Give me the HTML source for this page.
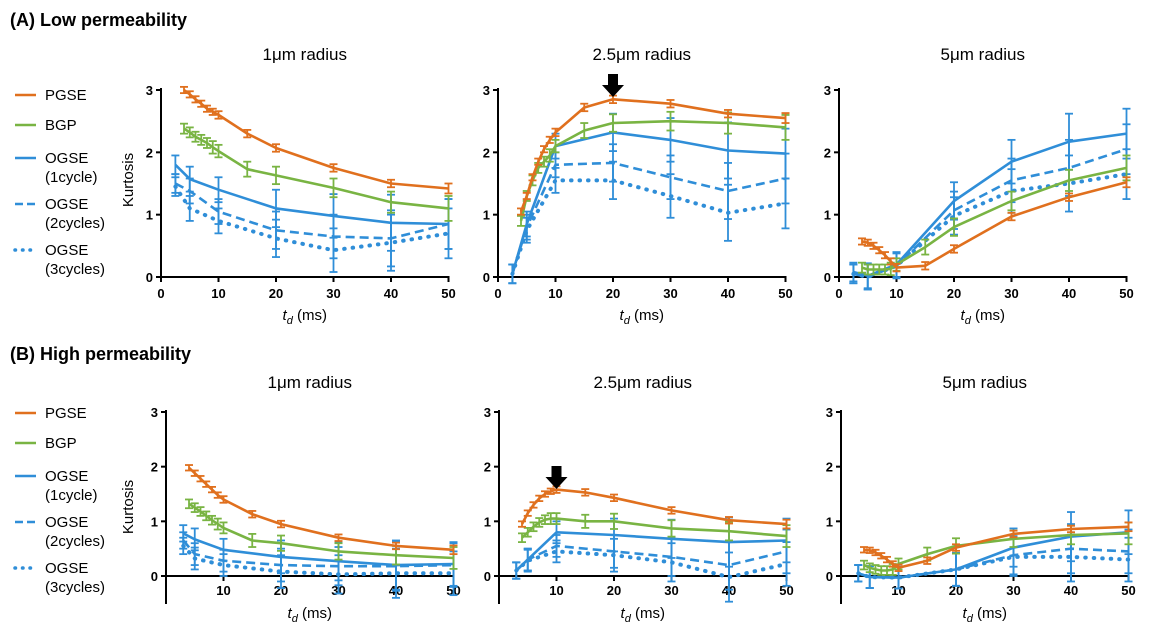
<!DOCTYPE html>
<html><head><meta charset="utf-8"><style>
body{margin:0;background:#fff;font-family:"Liberation Sans",Arial,sans-serif}
svg text{font-family:"Liberation Sans",Arial,sans-serif}
</style></head><body>
<svg id="fig" width="1167" height="637" viewBox="0 0 1167 637" xmlns="http://www.w3.org/2000/svg">
<text x="10" y="26" font-size="18" font-weight="bold">(A) Low permeability</text>
<text x="10" y="360" font-size="18" font-weight="bold">(B) High permeability</text>
<g id="plots"></g>
</svg>
<script>
const xsP=[4,5,6,7,8,9,10,15,20,30,40,50];
const xsO=[2.5,5,10,20,30,40,50];
const xsOB=[3,5,10,20,30,40,50];
// A1
const a1P=[3.0,2.93,2.85,2.78,2.7,2.65,2.6,2.3,2.07,1.75,1.5,1.42];
const a1B=[2.38,2.32,2.25,2.2,2.15,2.08,2.02,1.73,1.63,1.43,1.2,1.1];
const a1O1=[1.8,1.57,1.4,1.1,0.98,0.87,0.85];
const a1O2=[1.5,1.38,1.05,0.75,0.65,0.62,0.85];
const a1O3=[1.45,1.1,0.9,0.62,0.43,0.55,0.7];
// A2
const a2P=[1.05,1.3,1.6,1.85,2.05,2.2,2.32,2.72,2.85,2.78,2.62,2.55];
const a2B=[0.9,1.3,1.55,1.75,1.85,1.95,2.1,2.35,2.47,2.5,2.47,2.4];
const a2O1=[0.05,0.85,2.1,2.32,2.2,2.03,1.98];
const a2O2=[0.05,0.8,1.8,1.83,1.6,1.38,1.58];
const a2O3=[0.05,0.75,1.55,1.55,1.3,1.03,1.18];
// A3
const a3P=[0.57,0.55,0.5,0.43,0.35,0.25,0.15,0.18,0.45,0.97,1.28,1.52];
const a3B=[0.15,0.12,0.12,0.12,0.12,0.13,0.2,0.48,0.8,1.22,1.55,1.75];
const a3O1=[0.08,0.02,0.2,1.22,1.85,2.17,2.3];
const a3O2=[0.05,0.0,0.18,1.07,1.55,1.75,2.05];
const a3O3=[0.05,0.0,0.18,0.98,1.38,1.5,1.65];
// B1
const b1P=[1.98,1.88,1.78,1.68,1.58,1.48,1.4,1.13,0.95,0.7,0.55,0.48];
const b1B=[1.32,1.25,1.18,1.1,1.02,0.95,0.88,0.65,0.6,0.45,0.38,0.33];
const b1O1=[0.78,0.67,0.48,0.35,0.27,0.2,0.22];
const b1O2=[0.65,0.4,0.28,0.2,0.18,0.18,0.2];
const b1O3=[0.55,0.32,0.2,0.08,0.03,0.05,0.05];
// B2
const b2P=[0.95,1.15,1.3,1.42,1.5,1.55,1.58,1.53,1.43,1.2,1.02,0.95];
const b2B=[0.7,0.8,0.9,0.98,1.03,1.05,1.05,1.0,1.0,0.87,0.82,0.73];
const b2O1=[0.1,0.3,0.8,0.75,0.68,0.62,0.65];
const b2O2=[0.1,0.3,0.55,0.45,0.35,0.2,0.45];
const b2O3=[0.1,0.28,0.45,0.38,0.25,-0.02,0.22];
// B3
const b3P=[0.48,0.47,0.43,0.37,0.3,0.22,0.15,0.28,0.52,0.77,0.86,0.9];
const b3B=[0.2,0.15,0.12,0.1,0.1,0.12,0.22,0.4,0.55,0.68,0.75,0.78];
const b3O1=[0.05,-0.02,-0.03,0.12,0.52,0.72,0.8];
const b3O2=[0.05,-0.02,-0.03,0.12,0.38,0.5,0.45];
const b3O3=[0.05,-0.02,-0.03,0.12,0.35,0.35,0.3];
// error bar half-widths
const errP=[0.05,0.05,0.05,0.05,0.05,0.05,0.06,0.06,0.06,0.06,0.06,0.08];
const errB=[0.08,0.08,0.08,0.08,0.08,0.1,0.1,0.12,0.14,0.15,0.17,0.2];
const errO=[0.15,0.2,0.2,0.3,0.35,0.45,0.4];
const yTicks=[0,1,2,3];
const xTicksA=[0,10,20,30,40,50];
const xTicksB=[10,20,30,40,50];
const titles=["1\u03bcm radius","2.5\u03bcm radius","5\u03bcm radius"];
const legendNames=[["PGSE"],["BGP"],["OGSE","(1cycle)"],["OGSE","(2cycles)"],["OGSE","(3cycles)"]];

const C={P:"#e0701e",B:"#79b443",O:"#2f8ed8"};
const NS="http://www.w3.org/2000/svg";
const root=document.getElementById('plots');
function mk(tag,attrs,parent){const e=document.createElementNS(NS,tag);for(const k in attrs)e.setAttribute(k,attrs[k]);(parent||root).appendChild(e);return e;}

const panels=[
 {x0:161,y0:277,y3:90,row:0,s:[a1P,a1B,a1O1,a1O2,a1O3]},
 {x0:498,y0:277,y3:90,row:0,s:[a2P,a2B,a2O1,a2O2,a2O3],arrow:20},
 {x0:839,y0:277,y3:90,row:0,s:[a3P,a3B,a3O1,a3O2,a3O3]},
 {x0:166,y0:576,y3:412,row:1,s:[b1P,b1B,b1O1,b1O2,b1O3]},
 {x0:499,y0:576,y3:412,row:1,s:[b2P,b2B,b2O1,b2O2,b2O3],arrow:10},
 {x0:841,y0:576,y3:412,row:1,s:[b3P,b3B,b3O1,b3O2,b3O3]}
];
panels.forEach((p,pi)=>{
 const g=mk('g',{});
 
 
 const sx=v=>p.x0+v*5.75, sy=v=>p.y0-(p.y0-p.y3)*v/3;
 const xEnd=sx(50);
 const cx=(p.x0+xEnd)/2;
 const t=mk('text',{x:cx,y:p.row?388:60,'font-size':17,'text-anchor':'middle'},g);t.textContent=titles[pi%3];
 
 
 const yBottom=p.row?604:p.y0;
 const ya=mk('line',{x1:p.x0,y1:p.y3-2,x2:p.x0,y2:yBottom,stroke:'#000','stroke-width':2},g);
 
 
 const xa=mk('line',{x1:p.x0,y1:p.y0,x2:xEnd+1,y2:p.y0,stroke:'#000','stroke-width':2},g);
 
 
 yTicks.forEach(v=>{
  mk('line',{x1:p.x0-5,y1:sy(v),x2:p.x0,y2:sy(v),stroke:'#000','stroke-width':2},g);
  const tl=mk('text',{x:p.x0-8,y:sy(v)+5,'font-size':13,'font-weight':'bold','text-anchor':'end'},g);tl.textContent=v;
  
  
 });
 (p.row?xTicksB:xTicksA).forEach(v=>{
  mk('line',{x1:sx(v),y1:p.y0,x2:sx(v),y2:p.y0+5,stroke:'#000','stroke-width':2},g);
  const tl=mk('text',{x:sx(v),y:p.y0+(p.row?19:21),'font-size':13,'font-weight':'bold','text-anchor':'middle'},g);tl.textContent=v;
  
  
 });
 const xl=mk('text',{x:cx,y:p.row?618:320,'font-size':15,'text-anchor':'middle'},g);
 xl.innerHTML='<tspan font-style="italic">t</tspan><tspan font-style="italic" font-size="11" dy="4">d</tspan><tspan dy="-4"> (ms)</tspan>';
 
 
 const defs=[[xsP,C.P,null],[xsP,C.B,null],[p.row?xsOB:xsO,C.O,null],[p.row?xsOB:xsO,C.O,'9 5'],[p.row?xsOB:xsO,C.O,'0.5 8']];
 const names=['pgse','bgp','ogse-1cycle','ogse-2cycles','ogse-3cycles'];
 const errs=[errP,errB,errO,errO,errO];
 [2,3,4,1,0].forEach(si=>{
  const xs=defs[si][0],ys=p.s[si],col=defs[si][1];
  const eg=mk('g',{stroke:col,'stroke-width':1.8,fill:'none'},g);
  
  
  ys.forEach((v,i)=>{const e=errs[si][i];const X=sx(xs[i]);
   mk('line',{x1:X,y1:sy(v-e),x2:X,y2:sy(v+e)},eg);
   mk('line',{x1:X-4,y1:sy(v-e),x2:X+4,y2:sy(v-e)},eg);
   mk('line',{x1:X-4,y1:sy(v+e),x2:X+4,y2:sy(v+e)},eg);
  });
  const pts=ys.map((v,i)=>sx(xs[i]).toFixed(1)+','+sy(v).toFixed(1)).join(' ');
  const a={points:pts,fill:'none',stroke:col,'stroke-width':2.6,'stroke-linejoin':'round'};
  if(defs[si][2]){a['stroke-dasharray']=defs[si][2];a['stroke-linecap']=si==4?'round':'butt';if(si==4)a['stroke-width']=4;}
  const pl=mk('polyline',a,g);
  
  
 });
 if(p.arrow){const X=sx(p.arrow);const top=p.row?466:74;
  const ar=mk('polygon',{points:`${X-5},${top} ${X+5},${top} ${X+5},${top+11} ${X+11},${top+11} ${X},${top+23} ${X-11},${top+11} ${X-5},${top+11}`,fill:'#000'},g);
  
  
 }
 if(pi%3==0){
  const k=mk('text',{transform:`translate(133,${p.row?507:180}) rotate(-90)`,'font-size':15,'text-anchor':'middle'},g);k.textContent='Kurtosis';
  
  
  const off=p.row?318:0;
  const ly=[95,125,158,204,250];
  legendNames.forEach((n,i)=>{
   const lg=mk('g',{},g);
   
   
   const la={x1:15,y1:ly[i]+off,x2:36,y2:ly[i]+off,stroke:i==0?C.P:i==1?C.B:C.O,'stroke-width':2.6};
   if(i==3)la['stroke-dasharray']='8 4';
   if(i==4){la['stroke-dasharray']='0.5 7';la['stroke-width']=3.5;la['stroke-linecap']='round';}
   mk('line',la,lg);
   n.forEach((s,j)=>{const tt=mk('text',{x:45,y:ly[i]+off+5+j*19,'font-size':15},lg);tt.textContent=s;});
  });
 }
});
</script>
</body></html>
